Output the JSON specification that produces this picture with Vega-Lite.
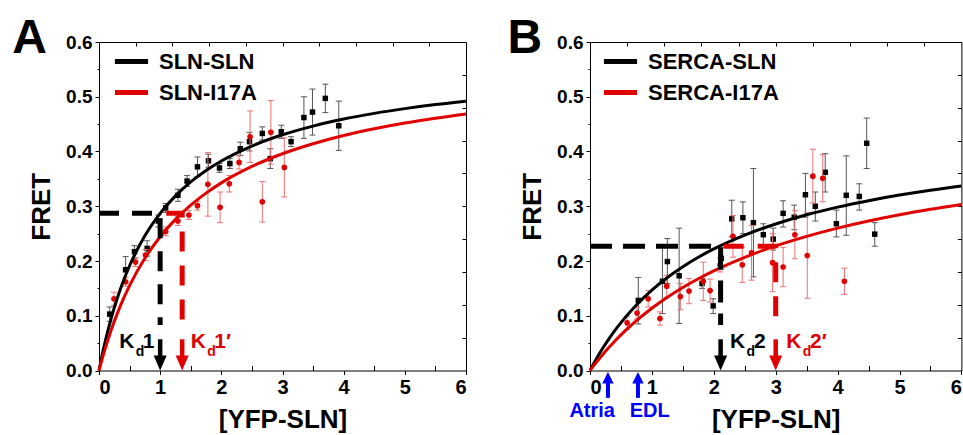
{
  "$schema": "https://vega.github.io/schema/vega-lite/v6.json",
  "background": "white",
  "autosize": {"type": "pad"},
  "padding": {"left": 12, "top": 15, "right": 0, "bottom": 0},
  "config": {
    "view": {"stroke": null},
    "font": "Liberation Sans",
    "axis": {"domainColor": "black", "tickColor": "black", "labelColor": "black", "titleColor": "black", "labelFont": "Liberation Sans", "titleFont": "Liberation Sans", "labelFontWeight": "bold", "titleFontWeight": "bold", "grid": false, "domainWidth": 1, "tickWidth": 1},
    "legend": {"symbolStrokeWidth": 5},
    "text": {"font": "Liberation Sans", "fontWeight": "bold"}
  },
  "datasets": {
    "ax": [{"x": 0, "y": 0}],
    "blackA": [
      {"x": 0.175, "y": 0.103, "lo": 0.09, "hi": 0.116},
      {"x": 0.435, "y": 0.184, "lo": 0.16, "hi": 0.208},
      {"x": 0.58, "y": 0.217, "lo": 0.205, "hi": 0.228},
      {"x": 0.787, "y": 0.223, "lo": 0.209, "hi": 0.237},
      {"x": 0.97, "y": 0.273, "lo": 0.262, "hi": 0.284},
      {"x": 1.09, "y": 0.297, "lo": 0.289, "hi": 0.305},
      {"x": 1.29, "y": 0.32, "lo": 0.309, "hi": 0.331},
      {"x": 1.44, "y": 0.346, "lo": 0.336, "hi": 0.356},
      {"x": 1.61, "y": 0.372, "lo": 0.354, "hi": 0.39},
      {"x": 1.79, "y": 0.383, "lo": 0.371, "hi": 0.395},
      {"x": 1.97, "y": 0.37, "lo": 0.362, "hi": 0.378},
      {"x": 2.14, "y": 0.378, "lo": 0.369, "hi": 0.387},
      {"x": 2.31, "y": 0.405, "lo": 0.393, "hi": 0.417},
      {"x": 2.46, "y": 0.418, "lo": 0.401, "hi": 0.435},
      {"x": 2.67, "y": 0.433, "lo": 0.421, "hi": 0.445},
      {"x": 2.8, "y": 0.387, "lo": 0.369, "hi": 0.405},
      {"x": 2.98, "y": 0.436, "lo": 0.424, "hi": 0.448},
      {"x": 3.14, "y": 0.418, "lo": 0.409, "hi": 0.427},
      {"x": 3.35, "y": 0.462, "lo": 0.424, "hi": 0.5},
      {"x": 3.49, "y": 0.472, "lo": 0.43, "hi": 0.514},
      {"x": 3.7, "y": 0.497, "lo": 0.471, "hi": 0.523},
      {"x": 3.92, "y": 0.447, "lo": 0.402, "hi": 0.492}
    ],
    "redA": [
      {"x": 0.245, "y": 0.131, "lo": 0.119, "hi": 0.143},
      {"x": 0.435, "y": 0.162, "lo": 0.154, "hi": 0.17},
      {"x": 0.597, "y": 0.198, "lo": 0.19, "hi": 0.206},
      {"x": 0.76, "y": 0.211, "lo": 0.201, "hi": 0.221},
      {"x": 1.09, "y": 0.254, "lo": 0.246, "hi": 0.262},
      {"x": 1.29, "y": 0.273, "lo": 0.265, "hi": 0.281},
      {"x": 1.47, "y": 0.284, "lo": 0.276, "hi": 0.292},
      {"x": 1.61, "y": 0.301, "lo": 0.293, "hi": 0.309},
      {"x": 1.78, "y": 0.34, "lo": 0.282, "hi": 0.398},
      {"x": 1.98, "y": 0.298, "lo": 0.27, "hi": 0.326},
      {"x": 2.13, "y": 0.341, "lo": 0.326, "hi": 0.356},
      {"x": 2.29, "y": 0.38, "lo": 0.368, "hi": 0.392},
      {"x": 2.47, "y": 0.427, "lo": 0.38, "hi": 0.474},
      {"x": 2.67, "y": 0.308, "lo": 0.271, "hi": 0.345},
      {"x": 2.81, "y": 0.435, "lo": 0.377, "hi": 0.493},
      {"x": 3.03, "y": 0.371, "lo": 0.317, "hi": 0.425}
    ],
    "curveA": [
      {"s": "SLN-SLN", "x": 0, "y": 0}, {"s": "SLN-SLN", "x": 0.05, "y": 0.0273}, {"s": "SLN-SLN", "x": 0.1, "y": 0.0522}, {"s": "SLN-SLN", "x": 0.2, "y": 0.0957}, {"s": "SLN-SLN", "x": 0.3, "y": 0.1325}, {"s": "SLN-SLN", "x": 0.4, "y": 0.164}, {"s": "SLN-SLN", "x": 0.5, "y": 0.1913}, {"s": "SLN-SLN", "x": 0.75, "y": 0.246}, {"s": "SLN-SLN", "x": 1, "y": 0.287}, {"s": "SLN-SLN", "x": 1.25, "y": 0.3189}, {"s": "SLN-SLN", "x": 1.5, "y": 0.3444}, {"s": "SLN-SLN", "x": 1.75, "y": 0.3653}, {"s": "SLN-SLN", "x": 2, "y": 0.3827}, {"s": "SLN-SLN", "x": 2.5, "y": 0.41}, {"s": "SLN-SLN", "x": 3, "y": 0.4305}, {"s": "SLN-SLN", "x": 3.5, "y": 0.4464}, {"s": "SLN-SLN", "x": 4, "y": 0.4592}, {"s": "SLN-SLN", "x": 4.5, "y": 0.4696}, {"s": "SLN-SLN", "x": 5, "y": 0.4783}, {"s": "SLN-SLN", "x": 5.5, "y": 0.4857}, {"s": "SLN-SLN", "x": 6, "y": 0.492},
      {"s": "SLN-I17A", "x": 0, "y": 0}, {"s": "SLN-I17A", "x": 0.05, "y": 0.0205}, {"s": "SLN-I17A", "x": 0.1, "y": 0.0396}, {"s": "SLN-I17A", "x": 0.2, "y": 0.0741}, {"s": "SLN-I17A", "x": 0.3, "y": 0.1044}, {"s": "SLN-I17A", "x": 0.4, "y": 0.1312}, {"s": "SLN-I17A", "x": 0.5, "y": 0.1551}, {"s": "SLN-I17A", "x": 0.75, "y": 0.205}, {"s": "SLN-I17A", "x": 1, "y": 0.2443}, {"s": "SLN-I17A", "x": 1.25, "y": 0.276}, {"s": "SLN-I17A", "x": 1.5, "y": 0.3021}, {"s": "SLN-I17A", "x": 1.75, "y": 0.324}, {"s": "SLN-I17A", "x": 2, "y": 0.3427}, {"s": "SLN-I17A", "x": 2.5, "y": 0.3727}, {"s": "SLN-I17A", "x": 3, "y": 0.3959}, {"s": "SLN-I17A", "x": 3.5, "y": 0.4142}, {"s": "SLN-I17A", "x": 4, "y": 0.4292}, {"s": "SLN-I17A", "x": 4.5, "y": 0.4415}, {"s": "SLN-I17A", "x": 5, "y": 0.452}, {"s": "SLN-I17A", "x": 5.5, "y": 0.4609}, {"s": "SLN-I17A", "x": 6, "y": 0.4686}
    ],
    "blackB": [
      {"x": 0.78, "y": 0.128, "lo": 0.085, "hi": 0.17},
      {"x": 1.17, "y": 0.163, "lo": 0.104, "hi": 0.225},
      {"x": 1.25, "y": 0.199, "lo": 0.159, "hi": 0.241},
      {"x": 1.44, "y": 0.173, "lo": 0.086, "hi": 0.26},
      {"x": 1.81, "y": 0.159, "lo": 0.15, "hi": 0.168},
      {"x": 1.99, "y": 0.118, "lo": 0.104, "hi": 0.131},
      {"x": 2.12, "y": 0.205, "lo": 0.185, "hi": 0.225},
      {"x": 2.29, "y": 0.277, "lo": 0.244, "hi": 0.311},
      {"x": 2.47, "y": 0.279, "lo": 0.25, "hi": 0.308},
      {"x": 2.64, "y": 0.27, "lo": 0.171, "hi": 0.369},
      {"x": 2.8, "y": 0.248, "lo": 0.229, "hi": 0.268},
      {"x": 2.96, "y": 0.24, "lo": 0.22, "hi": 0.26},
      {"x": 3.12, "y": 0.287, "lo": 0.262, "hi": 0.31},
      {"x": 3.3, "y": 0.28, "lo": 0.257, "hi": 0.302},
      {"x": 3.48, "y": 0.321, "lo": 0.28, "hi": 0.36},
      {"x": 3.64, "y": 0.3, "lo": 0.273, "hi": 0.326},
      {"x": 3.8, "y": 0.362, "lo": 0.326, "hi": 0.396},
      {"x": 3.98, "y": 0.268, "lo": 0.244, "hi": 0.293},
      {"x": 4.14, "y": 0.32, "lo": 0.247, "hi": 0.392},
      {"x": 4.35, "y": 0.318, "lo": 0.293, "hi": 0.341},
      {"x": 4.47, "y": 0.415, "lo": 0.369, "hi": 0.461},
      {"x": 4.6, "y": 0.249, "lo": 0.227, "hi": 0.27}
    ],
    "redB": [
      {"x": 0.6, "y": 0.087, "lo": 0.075, "hi": 0.099},
      {"x": 0.76, "y": 0.105, "lo": 0.094, "hi": 0.116},
      {"x": 0.94, "y": 0.131, "lo": 0.116, "hi": 0.146},
      {"x": 1.13, "y": 0.095, "lo": 0.083, "hi": 0.107},
      {"x": 1.24, "y": 0.154, "lo": 0.134, "hi": 0.174},
      {"x": 1.46, "y": 0.135, "lo": 0.111, "hi": 0.159},
      {"x": 1.6, "y": 0.145, "lo": 0.122, "hi": 0.168},
      {"x": 1.83, "y": 0.163, "lo": 0.128, "hi": 0.198},
      {"x": 1.94, "y": 0.146, "lo": 0.125, "hi": 0.167},
      {"x": 2.1, "y": 0.193, "lo": 0.18, "hi": 0.206},
      {"x": 2.31, "y": 0.245, "lo": 0.207, "hi": 0.283},
      {"x": 2.46, "y": 0.193, "lo": 0.161, "hi": 0.225},
      {"x": 2.61, "y": 0.215, "lo": 0.165, "hi": 0.265},
      {"x": 2.95, "y": 0.197, "lo": 0.144, "hi": 0.25},
      {"x": 3.12, "y": 0.189, "lo": 0.153, "hi": 0.225},
      {"x": 3.31, "y": 0.248, "lo": 0.204, "hi": 0.292},
      {"x": 3.51, "y": 0.21, "lo": 0.132, "hi": 0.288},
      {"x": 3.6, "y": 0.355, "lo": 0.306, "hi": 0.404},
      {"x": 3.76, "y": 0.351, "lo": 0.308, "hi": 0.394},
      {"x": 4.11, "y": 0.163, "lo": 0.139, "hi": 0.187}
    ],
    "curveB": [
      {"s": "SERCA-SLN", "x": 0, "y": 0}, {"s": "SERCA-SLN", "x": 0.05, "y": 0.0106}, {"s": "SERCA-SLN", "x": 0.1, "y": 0.0207}, {"s": "SERCA-SLN", "x": 0.2, "y": 0.0396}, {"s": "SERCA-SLN", "x": 0.3, "y": 0.0569}, {"s": "SERCA-SLN", "x": 0.4, "y": 0.0728}, {"s": "SERCA-SLN", "x": 0.5, "y": 0.0875}, {"s": "SERCA-SLN", "x": 0.75, "y": 0.1197}, {"s": "SERCA-SLN", "x": 1, "y": 0.1468}, {"s": "SERCA-SLN", "x": 1.25, "y": 0.1698}, {"s": "SERCA-SLN", "x": 1.5, "y": 0.1896}, {"s": "SERCA-SLN", "x": 1.75, "y": 0.2068}, {"s": "SERCA-SLN", "x": 2, "y": 0.222}, {"s": "SERCA-SLN", "x": 2.5, "y": 0.2473}, {"s": "SERCA-SLN", "x": 3, "y": 0.2676}, {"s": "SERCA-SLN", "x": 3.5, "y": 0.2844}, {"s": "SERCA-SLN", "x": 4, "y": 0.2984}, {"s": "SERCA-SLN", "x": 4.5, "y": 0.3102}, {"s": "SERCA-SLN", "x": 5, "y": 0.3204}, {"s": "SERCA-SLN", "x": 5.5, "y": 0.3293}, {"s": "SERCA-SLN", "x": 6, "y": 0.337},
      {"s": "SERCA-I17A", "x": 0, "y": 0}, {"s": "SERCA-I17A", "x": 0.05, "y": 0.0075}, {"s": "SERCA-I17A", "x": 0.1, "y": 0.0147}, {"s": "SERCA-I17A", "x": 0.2, "y": 0.0284}, {"s": "SERCA-I17A", "x": 0.3, "y": 0.0414}, {"s": "SERCA-I17A", "x": 0.4, "y": 0.0535}, {"s": "SERCA-I17A", "x": 0.5, "y": 0.065}, {"s": "SERCA-I17A", "x": 0.75, "y": 0.091}, {"s": "SERCA-I17A", "x": 1, "y": 0.1138}, {"s": "SERCA-I17A", "x": 1.25, "y": 0.1338}, {"s": "SERCA-I17A", "x": 1.5, "y": 0.1517}, {"s": "SERCA-I17A", "x": 1.75, "y": 0.1676}, {"s": "SERCA-I17A", "x": 2, "y": 0.182}, {"s": "SERCA-I17A", "x": 2.5, "y": 0.2068}, {"s": "SERCA-I17A", "x": 3, "y": 0.2275}, {"s": "SERCA-I17A", "x": 3.5, "y": 0.245}, {"s": "SERCA-I17A", "x": 4, "y": 0.26}, {"s": "SERCA-I17A", "x": 4.5, "y": 0.273}, {"s": "SERCA-I17A", "x": 5, "y": 0.2844}, {"s": "SERCA-I17A", "x": 5.5, "y": 0.2944}, {"s": "SERCA-I17A", "x": 6, "y": 0.3033}
    ]
  },
  "spacing": 124,
  "bounds": "flush",
  "resolve": {"scale": {"color": "independent"}},
  "hconcat": [
    {
      "width": 367,
      "height": 328.5,
      "resolve": {"axis": {"x": "independent", "y": "independent"}},
      "layer": [
        {
          "data": {"name": "ax"},
          "mark": {"type": "point", "opacity": 0},
          "encoding": {
            "x": {"field": "x", "type": "quantitative", "scale": {"domain": [0, 6], "nice": false, "zero": false}, "axis": {"orient": "bottom", "values": [0, 1, 2, 3, 4, 5, 6], "format": "d", "tickSize": 4, "labelFontSize": 20, "labelPadding": 3, "title": "[YFP-SLN]", "titleFontSize": 26, "titlePadding": 9}},
            "y": {"field": "y", "type": "quantitative", "scale": {"domain": [0, 0.6], "nice": false, "zero": false}, "axis": {"orient": "left", "values": [0, 0.1, 0.2, 0.3, 0.4, 0.5, 0.6], "format": ".1f", "tickSize": 4, "labelFontSize": 19, "labelPadding": 3, "title": "FRET", "titleFontSize": 26, "titlePadding": 11}}
          }
        },
        {
          "data": {"name": "ax"},
          "mark": {"type": "point", "opacity": 0},
          "encoding": {
            "x": {"field": "x", "type": "quantitative", "axis": {"orient": "bottom", "values": [0.5, 1.5, 2.5, 3.5, 4.5, 5.5], "tickSize": -5, "labels": false, "domain": false, "title": null}},
            "y": {"field": "y", "type": "quantitative", "axis": {"orient": "left", "values": [0.05, 0.15, 0.25, 0.35, 0.45, 0.55], "tickSize": 2, "labels": false, "domain": false, "title": null}}
          }
        },
        {
          "data": {"name": "ax"},
          "mark": {"type": "point", "opacity": 0},
          "encoding": {
            "x": {"field": "x", "type": "quantitative", "axis": {"orient": "top", "values": [0.6, 1.2, 1.8, 2.4, 3.0, 3.6, 4.2, 4.8, 5.4], "tickSize": -4, "labels": false, "title": null}},
            "y": {"field": "y", "type": "quantitative", "axis": {"orient": "right", "values": [0.06, 0.12, 0.18, 0.24, 0.3, 0.36, 0.42, 0.48, 0.54], "tickSize": -4, "labels": false, "title": null}}
          }
        },
        {
          "data": {"name": "blackA"},
          "layer": [
            {"mark": {"type": "rule", "color": "#555555", "strokeWidth": 1}, "encoding": {"x": {"field": "x", "type": "quantitative", "axis": null}, "y": {"field": "lo", "type": "quantitative", "axis": null}, "y2": {"field": "hi"}}},
            {"mark": {"type": "point", "shape": "stroke", "size": 36, "strokeWidth": 1, "color": "#555555", "opacity": 1}, "encoding": {"x": {"field": "x", "type": "quantitative", "axis": null}, "y": {"field": "lo", "type": "quantitative", "axis": null}}},
            {"mark": {"type": "point", "shape": "stroke", "size": 36, "strokeWidth": 1, "color": "#555555", "opacity": 1}, "encoding": {"x": {"field": "x", "type": "quantitative", "axis": null}, "y": {"field": "hi", "type": "quantitative", "axis": null}}},
            {"mark": {"type": "point", "shape": "square", "filled": true, "size": 30, "color": "black", "opacity": 1}, "encoding": {"x": {"field": "x", "type": "quantitative", "axis": null}, "y": {"field": "y", "type": "quantitative", "axis": null}}}
          ]
        },
        {
          "data": {"name": "redA"},
          "layer": [
            {"mark": {"type": "rule", "color": "#ee7070", "strokeWidth": 1}, "encoding": {"x": {"field": "x", "type": "quantitative", "axis": null}, "y": {"field": "lo", "type": "quantitative", "axis": null}, "y2": {"field": "hi"}}},
            {"mark": {"type": "point", "shape": "stroke", "size": 36, "strokeWidth": 1, "color": "#ee7070", "opacity": 1}, "encoding": {"x": {"field": "x", "type": "quantitative", "axis": null}, "y": {"field": "lo", "type": "quantitative", "axis": null}}},
            {"mark": {"type": "point", "shape": "stroke", "size": 36, "strokeWidth": 1, "color": "#ee7070", "opacity": 1}, "encoding": {"x": {"field": "x", "type": "quantitative", "axis": null}, "y": {"field": "hi", "type": "quantitative", "axis": null}}},
            {"mark": {"type": "point", "shape": "circle", "filled": true, "size": 32, "color": "#e00000", "opacity": 1}, "encoding": {"x": {"field": "x", "type": "quantitative", "axis": null}, "y": {"field": "y", "type": "quantitative", "axis": null}}}
          ]
        },
        {
          "data": {"name": "curveA"},
          "mark": {"type": "line", "interpolate": "monotone"},
          "encoding": {
            "x": {"field": "x", "type": "quantitative", "axis": null},
            "y": {"field": "y", "type": "quantitative", "axis": null},
            "strokeWidth": {"value": 3},
            "color": {"field": "s", "type": "nominal", "scale": {"domain": ["SLN-SLN", "SLN-I17A"], "range": ["#000000", "#e00000"]}, "legend": {"orient": "none", "legendX": 13, "legendY": 0, "title": null, "symbolType": "stroke", "symbolSize": 1100, "symbolStrokeWidth": 5, "labelFontSize": 22, "labelFont": "Liberation Sans", "labelFontWeight": "bold", "labelColor": "black", "rowPadding": -18, "labelOffset": 8, "padding": 0, "labelLimit": 300, "encode": {"symbols": {"enter": {"strokeWidth": {"value": 5}}, "update": {"strokeWidth": {"value": 5}}}}}}
          }
        },
        {
          "data": {"values": [{"x": 0, "y": 0.287, "o": 1}, {"x": 1, "y": 0.287, "o": 2}, {"x": 1, "y": 0.083, "o": 3}]},
          "mark": {"type": "line", "color": "black", "strokeWidth": 5, "strokeDash": [20, 13], "strokeCap": "butt"},
          "encoding": {"x": {"field": "x", "type": "quantitative", "axis": null}, "y": {"field": "y", "type": "quantitative", "axis": null}, "order": {"field": "o"}}
        },
        {
          "data": {"values": [{"x": 1.1, "y": 0.287, "o": 1}, {"x": 1.36, "y": 0.287, "o": 2}, {"x": 1.36, "y": 0.083, "o": 3}]},
          "mark": {"type": "line", "color": "#e00000", "strokeWidth": 5, "strokeDash": [20, 14], "strokeCap": "butt"},
          "encoding": {"x": {"field": "x", "type": "quantitative", "axis": null}, "y": {"field": "y", "type": "quantitative", "axis": null}, "order": {"field": "o"}}
        },
        {
          "data": {"values": [{"x": 1, "y": 0.057, "y2": 0.026}]},
          "mark": {"type": "rule", "color": "black", "strokeWidth": 4.5},
          "encoding": {"x": {"field": "x", "type": "quantitative", "axis": null}, "y": {"field": "y", "type": "quantitative", "axis": null}, "y2": {"field": "y2"}}
        },
        {
          "data": {"values": [{"x": 1.36, "y": 0.057, "y2": 0.026}]},
          "mark": {"type": "rule", "color": "#e00000", "strokeWidth": 4.5},
          "encoding": {"x": {"field": "x", "type": "quantitative", "axis": null}, "y": {"field": "y", "type": "quantitative", "axis": null}, "y2": {"field": "y2"}}
        },
        {
          "data": {"values": [{"x": 1, "y": 0.0137}]},
          "mark": {"type": "point", "shape": "M-0.87,-1L0.87,-1L0,1Z", "size": 225, "filled": true, "color": "black", "opacity": 1},
          "encoding": {"x": {"field": "x", "type": "quantitative", "axis": null}, "y": {"field": "y", "type": "quantitative", "axis": null}}
        },
        {
          "data": {"values": [{"x": 1.36, "y": 0.0137}]},
          "mark": {"type": "point", "shape": "M-0.87,-1L0.87,-1L0,1Z", "size": 225, "filled": true, "color": "#e00000", "opacity": 1},
          "encoding": {"x": {"field": "x", "type": "quantitative", "axis": null}, "y": {"field": "y", "type": "quantitative", "axis": null}}
        },
        {
          "data": {"values": [{"t": "K", "x": 0.33, "y": 0.0404}, {"t": "1", "x": 0.716, "y": 0.0404}]},
          "mark": {"type": "text", "fontSize": 21, "align": "left", "baseline": "alphabetic", "color": "black"},
          "encoding": {"x": {"field": "x", "type": "quantitative", "axis": null}, "y": {"field": "y", "type": "quantitative", "axis": null}, "text": {"field": "t"}}
        },
        {
          "data": {"values": [{"t": "d", "x": 0.6, "y": 0.026}]},
          "mark": {"type": "text", "fontSize": 14, "align": "left", "baseline": "alphabetic", "color": "black"},
          "encoding": {"x": {"field": "x", "type": "quantitative", "axis": null}, "y": {"field": "y", "type": "quantitative", "axis": null}, "text": {"field": "t"}}
        },
        {
          "data": {"values": [{"t": "K", "x": 1.5, "y": 0.0404}, {"t": "1′", "x": 1.886, "y": 0.0404}]},
          "mark": {"type": "text", "fontSize": 21, "align": "left", "baseline": "alphabetic", "color": "#e00000"},
          "encoding": {"x": {"field": "x", "type": "quantitative", "axis": null}, "y": {"field": "y", "type": "quantitative", "axis": null}, "text": {"field": "t"}}
        },
        {
          "data": {"values": [{"t": "d", "x": 1.77, "y": 0.026}]},
          "mark": {"type": "text", "fontSize": 14, "align": "left", "baseline": "alphabetic", "color": "#e00000"},
          "encoding": {"x": {"field": "x", "type": "quantitative", "axis": null}, "y": {"field": "y", "type": "quantitative", "axis": null}, "text": {"field": "t"}}
        },
        {
          "data": {"values": [{"t": "A", "x": -1.418, "y": 0.579}]},
          "mark": {"type": "text", "fontSize": 48, "align": "left", "baseline": "alphabetic", "color": "black"},
          "encoding": {"x": {"field": "x", "type": "quantitative", "axis": null}, "y": {"field": "y", "type": "quantitative", "axis": null}, "text": {"field": "t"}}
        }
      ]
    },
    {
      "width": 371.4,
      "height": 328.5,
      "resolve": {"axis": {"x": "independent", "y": "independent"}},
      "layer": [
        {
          "data": {"name": "ax"},
          "mark": {"type": "point", "opacity": 0},
          "encoding": {
            "x": {"field": "x", "type": "quantitative", "scale": {"domain": [0, 6], "nice": false, "zero": false}, "axis": {"orient": "bottom", "values": [0, 1, 2, 3, 4, 5, 6], "format": "d", "tickSize": 4, "labelFontSize": 20, "labelPadding": 3, "title": "[YFP-SLN]", "titleFontSize": 26, "titlePadding": 9}},
            "y": {"field": "y", "type": "quantitative", "scale": {"domain": [0, 0.6], "nice": false, "zero": false}, "axis": {"orient": "left", "values": [0, 0.1, 0.2, 0.3, 0.4, 0.5, 0.6], "format": ".1f", "tickSize": 4, "labelFontSize": 19, "labelPadding": 3, "title": "FRET", "titleFontSize": 26, "titlePadding": 11}}
          }
        },
        {
          "data": {"name": "ax"},
          "mark": {"type": "point", "opacity": 0},
          "encoding": {
            "x": {"field": "x", "type": "quantitative", "axis": {"orient": "bottom", "values": [0.5, 1.5, 2.5, 3.5, 4.5, 5.5], "tickSize": -5, "labels": false, "domain": false, "title": null}},
            "y": {"field": "y", "type": "quantitative", "axis": {"orient": "left", "values": [0.05, 0.15, 0.25, 0.35, 0.45, 0.55], "tickSize": 2, "labels": false, "domain": false, "title": null}}
          }
        },
        {
          "data": {"name": "ax"},
          "mark": {"type": "point", "opacity": 0},
          "encoding": {
            "x": {"field": "x", "type": "quantitative", "axis": {"orient": "top", "values": [0.6, 1.2, 1.8, 2.4, 3.0, 3.6, 4.2, 4.8, 5.4], "tickSize": -4, "labels": false, "title": null}},
            "y": {"field": "y", "type": "quantitative", "axis": {"orient": "right", "values": [0.06, 0.12, 0.18, 0.24, 0.3, 0.36, 0.42, 0.48, 0.54], "tickSize": -4, "labels": false, "title": null}}
          }
        },
        {
          "data": {"name": "blackB"},
          "layer": [
            {"mark": {"type": "rule", "color": "#555555", "strokeWidth": 1}, "encoding": {"x": {"field": "x", "type": "quantitative", "axis": null}, "y": {"field": "lo", "type": "quantitative", "axis": null}, "y2": {"field": "hi"}}},
            {"mark": {"type": "point", "shape": "stroke", "size": 36, "strokeWidth": 1, "color": "#555555", "opacity": 1}, "encoding": {"x": {"field": "x", "type": "quantitative", "axis": null}, "y": {"field": "lo", "type": "quantitative", "axis": null}}},
            {"mark": {"type": "point", "shape": "stroke", "size": 36, "strokeWidth": 1, "color": "#555555", "opacity": 1}, "encoding": {"x": {"field": "x", "type": "quantitative", "axis": null}, "y": {"field": "hi", "type": "quantitative", "axis": null}}},
            {"mark": {"type": "point", "shape": "square", "filled": true, "size": 30, "color": "black", "opacity": 1}, "encoding": {"x": {"field": "x", "type": "quantitative", "axis": null}, "y": {"field": "y", "type": "quantitative", "axis": null}}}
          ]
        },
        {
          "data": {"name": "redB"},
          "layer": [
            {"mark": {"type": "rule", "color": "#ee7070", "strokeWidth": 1}, "encoding": {"x": {"field": "x", "type": "quantitative", "axis": null}, "y": {"field": "lo", "type": "quantitative", "axis": null}, "y2": {"field": "hi"}}},
            {"mark": {"type": "point", "shape": "stroke", "size": 36, "strokeWidth": 1, "color": "#ee7070", "opacity": 1}, "encoding": {"x": {"field": "x", "type": "quantitative", "axis": null}, "y": {"field": "lo", "type": "quantitative", "axis": null}}},
            {"mark": {"type": "point", "shape": "stroke", "size": 36, "strokeWidth": 1, "color": "#ee7070", "opacity": 1}, "encoding": {"x": {"field": "x", "type": "quantitative", "axis": null}, "y": {"field": "hi", "type": "quantitative", "axis": null}}},
            {"mark": {"type": "point", "shape": "circle", "filled": true, "size": 32, "color": "#e00000", "opacity": 1}, "encoding": {"x": {"field": "x", "type": "quantitative", "axis": null}, "y": {"field": "y", "type": "quantitative", "axis": null}}}
          ]
        },
        {
          "data": {"name": "curveB"},
          "mark": {"type": "line", "interpolate": "monotone"},
          "encoding": {
            "x": {"field": "x", "type": "quantitative", "axis": null},
            "y": {"field": "y", "type": "quantitative", "axis": null},
            "strokeWidth": {"value": 3},
            "color": {"field": "s", "type": "nominal", "scale": {"domain": ["SERCA-SLN", "SERCA-I17A"], "range": ["#000000", "#e00000"]}, "legend": {"orient": "none", "legendX": 11, "legendY": 0, "title": null, "symbolType": "stroke", "symbolSize": 1100, "symbolStrokeWidth": 5, "labelFontSize": 22, "labelFont": "Liberation Sans", "labelFontWeight": "bold", "labelColor": "black", "rowPadding": -18, "labelOffset": 8, "padding": 0, "labelLimit": 300, "encode": {"symbols": {"enter": {"strokeWidth": {"value": 5}}, "update": {"strokeWidth": {"value": 5}}}}}}
          }
        },
        {
          "data": {"values": [{"x": 0, "y": 0.227, "o": 1}, {"x": 2.11, "y": 0.227, "o": 2}, {"x": 2.11, "y": 0.083, "o": 3}]},
          "mark": {"type": "line", "color": "black", "strokeWidth": 5, "strokeDash": [22, 11], "strokeCap": "butt"},
          "encoding": {"x": {"field": "x", "type": "quantitative", "axis": null}, "y": {"field": "y", "type": "quantitative", "axis": null}, "order": {"field": "o"}}
        },
        {
          "data": {"values": [{"x": 2.16, "y": 0.227, "o": 1}, {"x": 3.0, "y": 0.227, "o": 2}, {"x": 3.0, "y": 0.083, "o": 3}]},
          "mark": {"type": "line", "color": "#e00000", "strokeWidth": 5, "strokeDash": [20, 14], "strokeCap": "butt"},
          "encoding": {"x": {"field": "x", "type": "quantitative", "axis": null}, "y": {"field": "y", "type": "quantitative", "axis": null}, "order": {"field": "o"}}
        },
        {
          "data": {"values": [{"x": 2.11, "y": 0.057, "y2": 0.026}]},
          "mark": {"type": "rule", "color": "black", "strokeWidth": 4.5},
          "encoding": {"x": {"field": "x", "type": "quantitative", "axis": null}, "y": {"field": "y", "type": "quantitative", "axis": null}, "y2": {"field": "y2"}}
        },
        {
          "data": {"values": [{"x": 3.0, "y": 0.057, "y2": 0.026}]},
          "mark": {"type": "rule", "color": "#e00000", "strokeWidth": 4.5},
          "encoding": {"x": {"field": "x", "type": "quantitative", "axis": null}, "y": {"field": "y", "type": "quantitative", "axis": null}, "y2": {"field": "y2"}}
        },
        {
          "data": {"values": [{"x": 2.11, "y": 0.0137}]},
          "mark": {"type": "point", "shape": "M-0.87,-1L0.87,-1L0,1Z", "size": 225, "filled": true, "color": "black", "opacity": 1},
          "encoding": {"x": {"field": "x", "type": "quantitative", "axis": null}, "y": {"field": "y", "type": "quantitative", "axis": null}}
        },
        {
          "data": {"values": [{"x": 3.0, "y": 0.0137}]},
          "mark": {"type": "point", "shape": "M-0.87,-1L0.87,-1L0,1Z", "size": 225, "filled": true, "color": "#e00000", "opacity": 1},
          "encoding": {"x": {"field": "x", "type": "quantitative", "axis": null}, "y": {"field": "y", "type": "quantitative", "axis": null}}
        },
        {
          "data": {"values": [{"x": 0.29, "y": -0.021, "y2": -0.05}, {"x": 0.775, "y": -0.021, "y2": -0.05}]},
          "mark": {"type": "rule", "color": "#0000ff", "strokeWidth": 4},
          "encoding": {"x": {"field": "x", "type": "quantitative", "axis": null}, "y": {"field": "y", "type": "quantitative", "axis": null}, "y2": {"field": "y2"}}
        },
        {
          "data": {"values": [{"x": 0.29, "y": -0.0133}, {"x": 0.775, "y": -0.0133}]},
          "mark": {"type": "point", "shape": "M0,-1L1,1L-1,1Z", "size": 130, "filled": true, "color": "#0000ff", "opacity": 1},
          "encoding": {"x": {"field": "x", "type": "quantitative", "axis": null}, "y": {"field": "y", "type": "quantitative", "axis": null}}
        },
        {
          "data": {"values": [{"t": "Atria", "x": 0.035, "y": -0.085}, {"t": "EDL", "x": 0.965, "y": -0.085}]},
          "mark": {"type": "text", "fontSize": 20, "align": "center", "baseline": "alphabetic", "color": "#0000ff"},
          "encoding": {"x": {"field": "x", "type": "quantitative", "axis": null}, "y": {"field": "y", "type": "quantitative", "axis": null}, "text": {"field": "t"}}
        },
        {
          "data": {"values": [{"t": "K", "x": 2.26, "y": 0.0404}, {"t": "2", "x": 2.65, "y": 0.0404}]},
          "mark": {"type": "text", "fontSize": 21, "align": "left", "baseline": "alphabetic", "color": "black"},
          "encoding": {"x": {"field": "x", "type": "quantitative", "axis": null}, "y": {"field": "y", "type": "quantitative", "axis": null}, "text": {"field": "t"}}
        },
        {
          "data": {"values": [{"t": "d", "x": 2.53, "y": 0.026}]},
          "mark": {"type": "text", "fontSize": 14, "align": "left", "baseline": "alphabetic", "color": "black"},
          "encoding": {"x": {"field": "x", "type": "quantitative", "axis": null}, "y": {"field": "y", "type": "quantitative", "axis": null}, "text": {"field": "t"}}
        },
        {
          "data": {"values": [{"t": "K", "x": 3.17, "y": 0.0404}, {"t": "2′", "x": 3.555, "y": 0.0404}]},
          "mark": {"type": "text", "fontSize": 21, "align": "left", "baseline": "alphabetic", "color": "#e00000"},
          "encoding": {"x": {"field": "x", "type": "quantitative", "axis": null}, "y": {"field": "y", "type": "quantitative", "axis": null}, "text": {"field": "t"}}
        },
        {
          "data": {"values": [{"t": "d", "x": 3.435, "y": 0.026}]},
          "mark": {"type": "text", "fontSize": 14, "align": "left", "baseline": "alphabetic", "color": "#e00000"},
          "encoding": {"x": {"field": "x", "type": "quantitative", "axis": null}, "y": {"field": "y", "type": "quantitative", "axis": null}, "text": {"field": "t"}}
        },
        {
          "data": {"values": [{"t": "B", "x": -1.334, "y": 0.579}]},
          "mark": {"type": "text", "fontSize": 48, "align": "left", "baseline": "alphabetic", "color": "black"},
          "encoding": {"x": {"field": "x", "type": "quantitative", "axis": null}, "y": {"field": "y", "type": "quantitative", "axis": null}, "text": {"field": "t"}}
        }
      ]
    }
  ]
}
